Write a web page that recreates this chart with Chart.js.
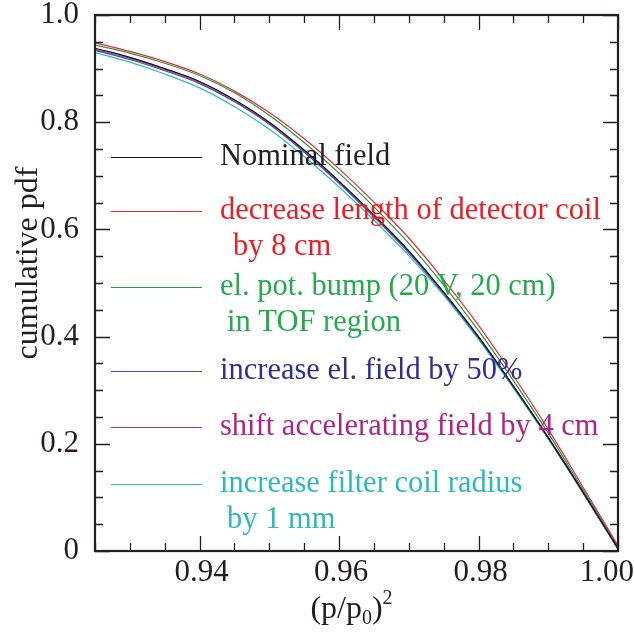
<!DOCTYPE html>
<html>
<head>
<meta charset="utf-8">
<script src="https://cdn.jsdelivr.net/npm/chart.js@4.4.0/dist/chart.umd.min.js"></script>
<style>
  html, body { margin: 0; padding: 0; background: #fff; }
  canvas { display: block; }
</style>
</head>
<body>
<canvas id="cdf" width="634" height="632"></canvas>
<script>
// (p/p0)^2 sample points
const pSq = [0.925, 0.93, 0.935, 0.94, 0.945, 0.95, 0.955, 0.96, 0.965, 0.97, 0.975, 0.98, 0.985, 0.99, 0.995, 1.0];

// cumulative pdf
const nominal     = [0.938, 0.921, 0.900, 0.876, 0.842, 0.800, 0.748, 0.690, 0.627, 0.560, 0.483, 0.400, 0.308, 0.212, 0.110, 0.005];
const shorterCoil = [0.948, 0.932, 0.913, 0.890, 0.858, 0.818, 0.769, 0.713, 0.651, 0.584, 0.506, 0.421, 0.327, 0.227, 0.119, 0.010];
const potBump     = [0.944, 0.929, 0.910, 0.887, 0.855, 0.813, 0.762, 0.705, 0.642, 0.574, 0.496, 0.411, 0.318, 0.220, 0.114, 0.008];
const elField     = [0.934, 0.917, 0.896, 0.872, 0.838, 0.796, 0.744, 0.686, 0.623, 0.556, 0.480, 0.397, 0.306, 0.210, 0.108, 0.004];
const accShift    = [0.936, 0.919, 0.898, 0.874, 0.840, 0.798, 0.746, 0.688, 0.625, 0.558, 0.482, 0.399, 0.307, 0.211, 0.109, 0.004];
const filterRad   = [0.930, 0.912, 0.890, 0.864, 0.829, 0.787, 0.736, 0.679, 0.617, 0.551, 0.477, 0.395, 0.304, 0.209, 0.108, 0.003];

const seriesValues = [nominal, shorterCoil, potBump, elField, accShift, filterRad];
const seriesLabels = [
  ["Nominal field"],
  ["decrease length of detector coil", "by 8 cm"],
  ["el. pot. bump (20 V, 20 cm)", "in TOF region"],
  ["increase el. field by 50%"],
  ["shift accelerating field by 4 cm"],
  ["increase filter coil radius", "by 1 mm"]
];
const lineColors = ["#111111", "#ec2a32", "#1f9a45", "#4650ae", "#bb3196", "#2fbcbd"];
const textColors = ["#231f20", "#ed1c24", "#22ac4c", "#2e3192", "#b0238a", "#2bbab9"];

const serif = "'Liberation Serif', 'Times New Roman', serif";
const ink = "#231f20";

// legend row positions (line y in px) and indents of second lines
const legendRows = [157, 211, 287, 371, 427, 484];
const secondIndent = [0, 13, 7, 0, 0, 7];

const isMajorX = v => Math.round(v * 1000) % 20 === 0;
const isMajorY = v => Math.round(v * 100) % 20 === 0;

const decorations = {
  id: 'decorations',
  afterDraw(chart) {
    const ctx = chart.ctx;
    const a = chart.chartArea;
    const xs = chart.scales.x, ys = chart.scales.y;
    ctx.save();
    ctx.strokeStyle = ink;

    // inward ticks on all four sides
    ctx.lineWidth = 1.3;
    ctx.beginPath();
    xs.ticks.forEach(t => {
      const px = Math.round(xs.getPixelForValue(t.value)) + 0.5;
      const len = isMajorX(t.value) ? 15 : 8;
      ctx.moveTo(px, a.bottom); ctx.lineTo(px, a.bottom - len);
      ctx.moveTo(px, a.top); ctx.lineTo(px, a.top + len);
    });
    ys.ticks.forEach(t => {
      const py = Math.round(ys.getPixelForValue(t.value)) + 0.5;
      const len = isMajorY(t.value) ? 15 : 8;
      ctx.moveTo(a.left, py); ctx.lineTo(a.left + len, py);
      ctx.moveTo(a.right, py); ctx.lineTo(a.right - len, py);
    });
    ctx.stroke();

    // frame
    ctx.lineWidth = 2.2;
    ctx.strokeRect(a.left, a.top, a.right - a.left, a.bottom - a.top);

    // x tick labels, last one kept inside the canvas
    ctx.fillStyle = ink;
    ctx.font = "31px " + serif;
    ctx.textAlign = "center";
    ctx.textBaseline = "alphabetic";
    xs.ticks.forEach(t => {
      if (!isMajorX(t.value)) return;
      const txt = t.value.toFixed(2);
      const w = ctx.measureText(txt).width;
      const px = Math.min(xs.getPixelForValue(t.value) + 2, chart.width - w / 2);
      ctx.fillText(txt, px, 581);
    });

    // legend
    ctx.font = "30.5px " + serif;
    ctx.textBaseline = "middle";
    ctx.textAlign = "left";
    seriesLabels.forEach((lines, i) => {
      const y = legendRows[i] + 0.5;
      ctx.strokeStyle = lineColors[i];
      ctx.lineWidth = 1.2;
      ctx.beginPath();
      ctx.moveTo(111, y); ctx.lineTo(202, y);
      ctx.stroke();
      ctx.fillStyle = textColors[i];
      ctx.fillText(lines[0], 220, y - 1);
      if (lines[1]) ctx.fillText(lines[1], 220 + secondIndent[i], y + 35);
    });

    // axis titles
    ctx.fillStyle = ink;
    ctx.font = "32px " + serif;
    ctx.save();
    ctx.translate(29, 263);
    ctx.rotate(-Math.PI / 2);
    ctx.textAlign = "center";
    ctx.fillText("cumulative pdf", 0, 0);
    ctx.restore();

    const big = "32px " + serif, small = "20px " + serif;
    const parts = [["(p/p", big, 0], ["0", small, 6], [")", big, 0], ["2", small, -14]];
    let w = 0;
    parts.forEach(p => { ctx.font = p[1]; w += ctx.measureText(p[0]).width; });
    let x = (a.left + a.right) / 2 - w / 2 - 5;
    ctx.textBaseline = "alphabetic";
    ctx.textAlign = "left";
    parts.forEach(p => {
      ctx.font = p[1];
      ctx.fillText(p[0], x, 618 + p[2]);
      x += ctx.measureText(p[0]).width;
    });
    ctx.restore();
  }
};

new Chart(document.getElementById("cdf"), {
  type: 'line',
  data: {
    datasets: seriesValues.map((vals, i) => ({
      label: seriesLabels[i].join(" "),
      data: pSq.map((x, j) => ({ x: x, y: vals[j] })),
      borderColor: lineColors[i],
      borderWidth: 1.2,
      pointRadius: 0,
      fill: false,
      cubicInterpolationMode: 'monotone'
    }))
  },
  options: {
    responsive: false,
    animation: false,
    devicePixelRatio: 1,
    layout: { padding: { top: 15, right: 16, left: 0, bottom: 0 } },
    plugins: {
      legend: { display: false },
      tooltip: { enabled: false }
    },
    scales: {
      x: {
        type: 'linear',
        min: 0.925,
        max: 1.0,
        grid: { display: false },
        border: { display: false },
        ticks: {
          display: false,
          stepSize: 0.005,
          autoSkip: false,
          maxRotation: 0
        },
        afterFit: s => { s.height = 81; s.paddingLeft = 0; s.paddingRight = 0; }
      },
      y: {
        min: 0,
        max: 1,
        grid: { display: false },
        border: { display: false },
        ticks: {
          stepSize: 0.05,
          autoSkip: false,
          padding: 8,
          color: ink,
          font: { family: serif, size: 31 },
          callback: v => isMajorY(v) ? (Math.abs(v) < 1e-9 ? '0' : v.toFixed(1)) : ''
        },
        afterFit: s => { s.width = 95; s.paddingTop = 0; s.paddingBottom = 0; }
      }
    }
  },
  plugins: [decorations]
});
</script>
</body>
</html>
